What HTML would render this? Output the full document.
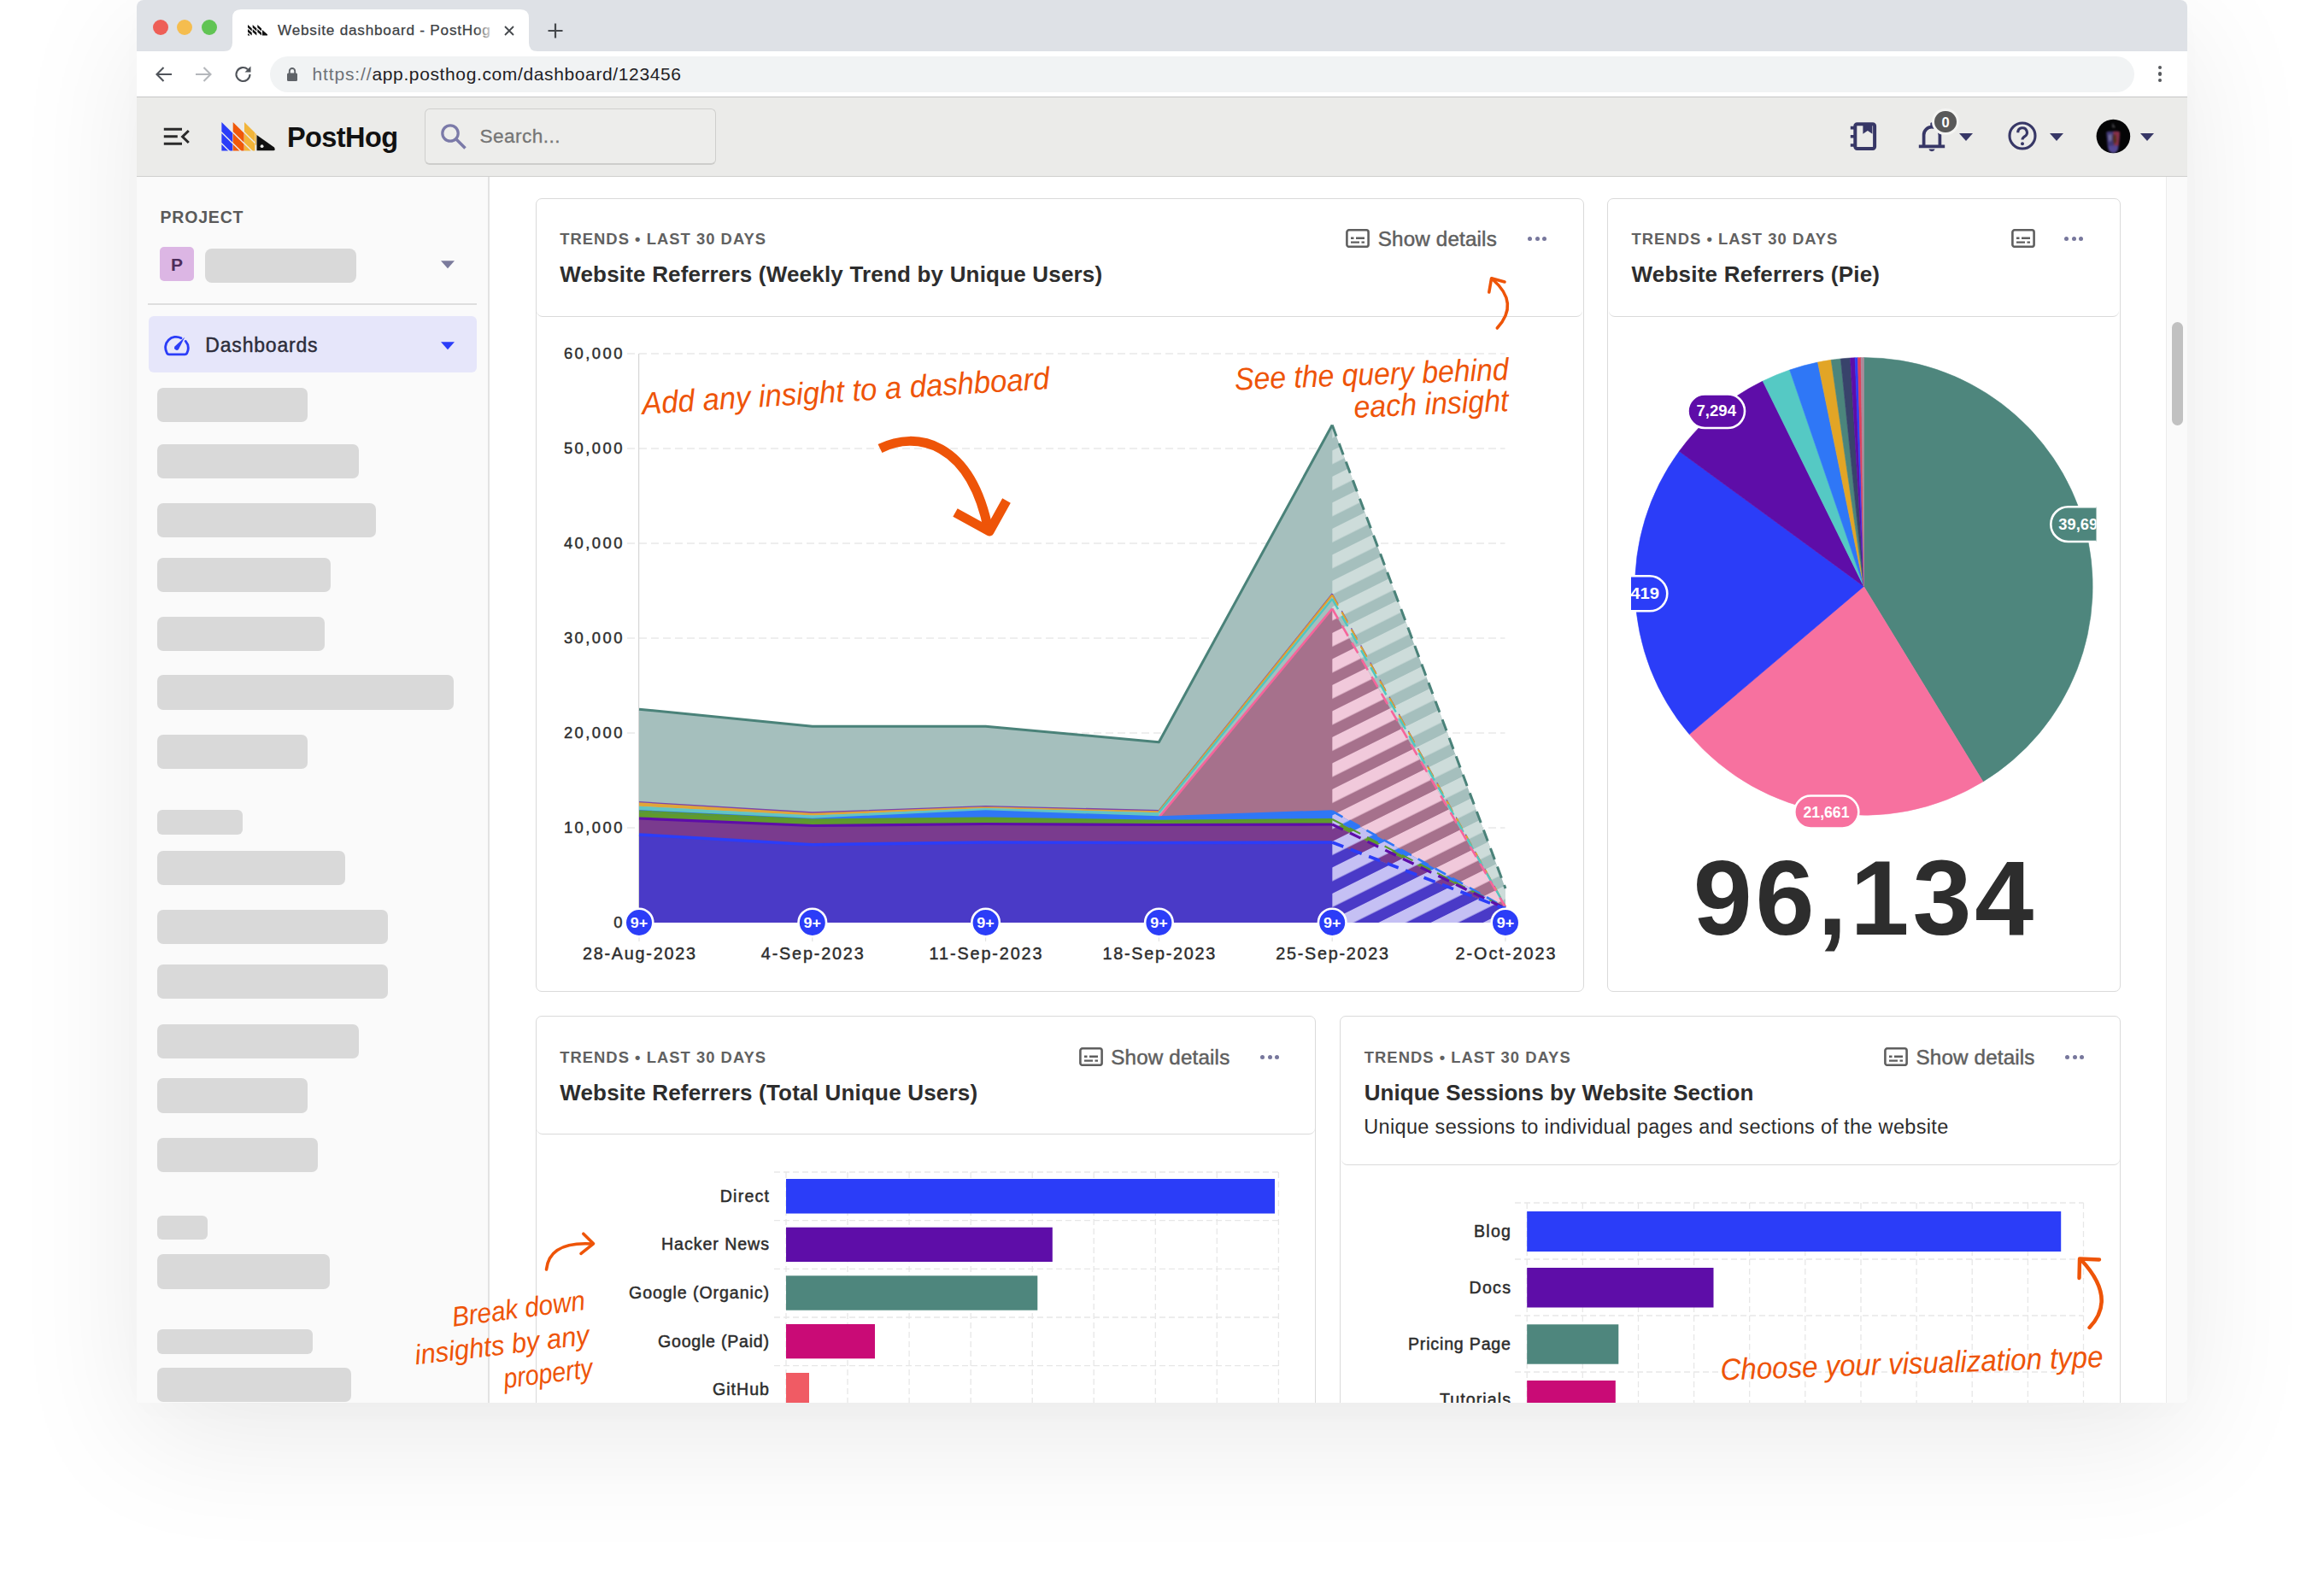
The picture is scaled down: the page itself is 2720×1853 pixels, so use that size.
<!DOCTYPE html>
<html lang="en"><head><meta charset="utf-8"><title>Website dashboard - PostHog</title>
<style>
html,body{margin:0;padding:0;background:#fff}
body{width:2720px;height:1853px;position:relative;overflow:hidden;font-family:"Liberation Sans",sans-serif}
.b{position:absolute;display:block}
.t{position:absolute;white-space:nowrap;line-height:1;font-family:"Liberation Sans",sans-serif}
#shadow{position:absolute;left:160px;top:0;width:2400px;height:1642px;border-radius:8px 8px 7px 4px;
 box-shadow:0 40px 150px rgba(0,0,0,.085),0 10px 40px rgba(0,0,0,.012)}
#win{position:absolute;left:0;top:0;width:2720px;height:1853px;clip-path:inset(0px 160px 211px 160px round 8px 8px 7px 4px)}
#gfx{position:absolute;left:0;top:0}
text{font-family:"Liberation Sans",sans-serif}
</style></head>
<body>
<div id="shadow"></div>
<div id="win">
<div class="b" style="left:160.00px;top:0.00px;width:2400.00px;height:60.00px;background:#dee1e6"></div>
<svg class="b" style="left:252px;top:0" width="400" height="60" viewBox="252 0 400 60"><path d="M262 60 Q272 60 272 50 L272 21 Q272 11 282 11 L609 11 Q619 11 619 21 L619 50 Q619 60 629 60 Z" fill="#fff"/></svg>
<div class="b" style="left:178.50px;top:22.50px;width:18.00px;height:18.00px;background:#ee5f57;border-radius:50%"></div>
<div class="b" style="left:207.30px;top:22.50px;width:18.00px;height:18.00px;background:#f5bd4f;border-radius:50%"></div>
<div class="b" style="left:236.00px;top:22.50px;width:18.00px;height:18.00px;background:#61c454;border-radius:50%"></div>
<svg class="b" style="left:289.6px;top:29.4px" width="23.6" height="12.6" viewBox="0 0 50 30" preserveAspectRatio="none"><g fill="#111"><path d="M0 0 L10 10 L10 18 L0 8Z"/><path d="M0 12 L10 22 L10 30 L0 20Z"/><path d="M0 24 L6 30 L0 30Z"/><path d="M12 0 L22 10 L22 18 L12 8Z"/><path d="M12 12 L22 22 L22 30 L12 20Z"/><path d="M24 0 L34 10 L34 18 L24 8Z"/><path d="M24 12 L34 22 L34 30 L24 20Z"/><path d="M36 14 L50 28 L50 30 L36 30Z"/></g></svg>
<div class="t" style="left:325.00px;top:26.94px;font-size:17.2px;font-weight:normal;font-style:normal;color:#3c4043;letter-spacing:0.764px;-webkit-text-stroke:0.25px #3c4043;">Website dashboard - PostHog</div>
<div class="b" style="left:556.00px;top:22.00px;width:24.00px;height:28.00px;background:linear-gradient(90deg,rgba(255,255,255,0),#fff)"></div>
<svg class="b" style="left:588px;top:28px" width="16" height="16" viewBox="0 0 16 16"><path d="M3 3 L13 13 M13 3 L3 13" stroke="#45484c" stroke-width="1.8" fill="none"/></svg>
<svg class="b" style="left:640px;top:26px" width="20" height="20" viewBox="0 0 20 20"><path d="M10 1.5 V18.5 M1.5 10 H18.5" stroke="#45484c" stroke-width="2.2" fill="none"/></svg>
<div class="b" style="left:160.00px;top:60.00px;width:2400.00px;height:53.00px;background:#fff"></div>
<div class="b" style="left:160.00px;top:112.90px;width:2400.00px;height:1.30px;background:#c6c6c6"></div>
<svg class="b" style="left:180px;top:75px" width="24" height="24" viewBox="0 0 24 24"><path d="M21 12 H4 M11.5 4 L3.5 12 L11.5 20" stroke="#50545a" stroke-width="2.1" fill="none"/></svg>
<svg class="b" style="left:226px;top:75px" width="24" height="24" viewBox="0 0 24 24"><path d="M3 12 H20 M12.5 4 L20.5 12 L12.5 20" stroke="#b4b7bb" stroke-width="2.1" fill="none"/></svg>
<svg class="b" style="left:273px;top:75px" width="24" height="24" viewBox="0 0 24 24"><path d="M19.5 12 A8 8 0 1 1 17 6.2" stroke="#50545a" stroke-width="2.1" fill="none"/><path d="M20.5 2.5 V9.5 H13.5 Z" fill="#50545a"/></svg>
<div class="b" style="left:316.00px;top:66.30px;width:2181.50px;height:41.50px;background:#f1f3f4;border-radius:21px"></div>
<svg class="b" style="left:335px;top:78px" width="14" height="18" viewBox="0 0 14 18"><rect x="1" y="7.5" width="12" height="9.5" rx="1.5" fill="#5f6368"/><path d="M3.8 8 V5.2 A3.2 3.2 0 0 1 10.2 5.2 V8" stroke="#5f6368" stroke-width="1.9" fill="none"/></svg>
<div class="t" style="left:365.50px;top:76.22px;font-size:21px;font-weight:normal;font-style:normal;color:#6e7277;letter-spacing:0.853px;">https://</div>
<div class="t" style="left:435.50px;top:76.22px;font-size:21px;font-weight:normal;font-style:normal;color:#1f2124;letter-spacing:0.625px;">app.posthog.com/dashboard/123456</div>
<div class="b" style="left:2526.00px;top:77.10px;width:4.40px;height:4.40px;background:#55585c;border-radius:50%"></div>
<div class="b" style="left:2526.00px;top:84.45px;width:4.40px;height:4.40px;background:#55585c;border-radius:50%"></div>
<div class="b" style="left:2526.00px;top:91.80px;width:4.40px;height:4.40px;background:#55585c;border-radius:50%"></div>
<div class="b" style="left:160.00px;top:114.00px;width:2400.00px;height:92.50px;background:#ebebe9"></div>
<div class="b" style="left:160.00px;top:205.60px;width:2400.00px;height:1.40px;background:#d0d0ce"></div>
<svg class="b" style="left:186px;top:144px" width="40" height="32" viewBox="186 144 40 32"><path d="M191.8 151.2 H213 M191.8 159.8 H207.8 M191.8 168.3 H213" stroke="#2b2b2b" stroke-width="3" fill="none"/><path d="M220.8 153 L213.6 160 L220.8 167" stroke="#2b2b2b" stroke-width="3" fill="none"/></svg>
<svg class="b" style="left:255px;top:138px" width="72" height="44" viewBox="255 138 72 44"><defs><clipPath id="lg"><rect x="255" y="138" width="72" height="38.6"/></clipPath></defs><g clip-path="url(#lg)"><path d="M259.4 142.9 L272.3 155.8 L272.3 166.8 L259.4 153.9 Z" fill="#2b3df8"/><path d="M259.4 155.9 L272.3 168.8 L272.3 179.8 L259.4 166.9 Z" fill="#2b3df8"/><path d="M259.4 168.9 L272.3 181.8 L272.3 192.8 L259.4 179.9 Z" fill="#2b3df8"/><path d="M272.7 142.9 L285.6 155.8 L285.6 166.8 L272.7 153.9 Z" fill="#f0590a"/><path d="M272.7 155.9 L285.6 168.8 L285.6 179.8 L272.7 166.9 Z" fill="#f0590a"/><path d="M272.7 168.9 L285.6 181.8 L285.6 192.8 L272.7 179.9 Z" fill="#f0590a"/><path d="M286 142.9 L298.3 155.2 L298.3 166.2 L286 153.9 Z" fill="#f2b53a"/><path d="M286 155.9 L298.3 168.2 L298.3 179.2 L286 166.9 Z" fill="#f2b53a"/><path d="M286 168.9 L298.3 181.2 L298.3 192.2 L286 179.9 Z" fill="#f2b53a"/><path d="M298.7 155.6 L298.7 169 L300 170.3 L300 157 Z" fill="#f2b53a"/><path d="M300.5 158 L321 172.6 Q323 176.6 319.5 176.6 L300.5 176.6 Z" fill="#111"/><circle cx="306.6" cy="171.2" r="1.9" fill="#ebebe9"/></g></svg>
<div class="t" style="left:336.00px;top:144.99px;font-size:32.5px;font-weight:bold;font-style:normal;color:#111;letter-spacing:-0.601px;">PostHog</div>
<div class="b" style="left:496.50px;top:127.00px;width:341.50px;height:65.50px;background:#ededeb;border:1.5px solid #cfcfcd;border-bottom:2.5px solid #cdcdcb;border-radius:6px;box-sizing:border-box"></div>
<svg class="b" style="left:514px;top:143px" width="34" height="34" viewBox="0 0 34 34"><circle cx="13" cy="13" r="9.2" stroke="#7b7aa8" stroke-width="3.2" fill="none"/><path d="M20 20 L30.5 30.5" stroke="#7b7aa8" stroke-width="3.6" fill="none"/></svg>
<div class="t" style="left:561.50px;top:148.87px;font-size:22.6px;font-weight:normal;font-style:normal;color:#757575;letter-spacing:0.444px;-webkit-text-stroke:0.3px #757575;">Search...</div>
<svg class="b" style="left:2160px;top:138px" width="40" height="42" viewBox="2160 138 40 42"><rect x="2171.3" y="145.2" width="22.8" height="28.8" rx="2.2" stroke="#373766" stroke-width="4" fill="none"/><path d="M2180.4 145 H2191.4 V156.8 L2185.9 153 L2180.4 156.8 Z" fill="#373766"/><path d="M2165.8 149.6 H2171 M2165.8 159.8 H2171 M2165.8 170 H2171" stroke="#373766" stroke-width="3.6"/></svg>
<svg class="b" style="left:2240px;top:138px" width="42" height="44" viewBox="2240 138 42 44"><path d="M2245.8 171.4 H2276.2 M2251.6 171.4 V158 A9.4 9.4 0 0 1 2270.4 158 V171.4" stroke="#373766" stroke-width="3.7" fill="none" stroke-linejoin="round"/><path d="M2257.4 174.6 A3.7 3.4 0 0 0 2264.6 174.6 Z" fill="#373766"/><rect x="2259.3" y="143.2" width="3.6" height="5.5" rx="1.5" fill="#373766"/></svg>
<div class="b" style="left:2261.20px;top:126.80px;width:31.60px;height:31.60px;background:#595959;border:3px solid #f4f4f2;border-radius:50%;box-sizing:border-box"></div>
<div class="t" style="left:2272.41px;top:134.73px;font-size:16.5px;font-weight:bold;font-style:normal;color:#fff;letter-spacing:0.000px;">0</div>
<svg class="b" style="left:2293.4px;top:156px" width="16" height="9" viewBox="0 0 16 9"><path d="M0 0 H16 L8 9 Z" fill="#373766"/></svg>
<svg class="b" style="left:2349px;top:141px" width="36" height="36" viewBox="0 0 36 36"><circle cx="18" cy="18" r="15" stroke="#373766" stroke-width="3.1" fill="none"/><path d="M12.8 14.2 A5.3 5.3 0 1 1 20.8 18.6 Q18 20.4 18 22.6" stroke="#373766" stroke-width="3.1" fill="none"/><circle cx="18" cy="27.2" r="2" fill="#373766"/></svg>
<svg class="b" style="left:2398.7px;top:156px" width="16" height="9" viewBox="0 0 16 9"><path d="M0 0 H16 L8 9 Z" fill="#373766"/></svg>
<svg class="b" style="left:2450px;top:136px" width="48" height="48" viewBox="2450 136 48 48"><defs><clipPath id="av"><circle cx="2473.4" cy="159.5" r="19.8"/></clipPath><filter id="avb"><feGaussianBlur stdDeviation="0.8"/></filter></defs><circle cx="2473.4" cy="159.5" r="19.8" fill="#050506"/><g clip-path="url(#av)" filter="url(#avb)" opacity=".82"><path d="M2465.3 156 Q2465 153.8 2468 153.8 L2479 153.8 Q2481.3 153.8 2481 156 L2479.6 172 Q2478.6 179 2473.5 179.5 Q2468 179 2466.8 172 Z" fill="#4f4590"/><path d="M2473.4 153.8 L2479 153.8 Q2481.3 153.8 2481 156 L2479.8 170 L2474.5 171 Z" fill="#a63a58"/><path d="M2473 157 L2476.5 158 L2477.5 166 L2474 169 L2472.5 163 Z" fill="#6b3a22"/><path d="M2467.5 158 L2471.5 157 L2471.5 164 L2468.5 166 Z" fill="#8d87c0"/><path d="M2467.5 171.5 Q2473 169.5 2479 171.5 L2478.4 176 Q2473.5 181 2468.4 176 Z" fill="#6759b5"/><path d="M2472.3 144.5 L2473.2 144.5 L2473.8 147 L2475.6 148.4 L2475.6 149.3 L2472.3 149.3 Z" fill="#6a6a72"/></g></svg>
<svg class="b" style="left:2505px;top:156px" width="16" height="9" viewBox="0 0 16 9"><path d="M0 0 H16 L8 9 Z" fill="#373766"/></svg>
<div class="b" style="left:160.00px;top:206.50px;width:412.00px;height:1435.50px;background:#fafafa"></div>
<div class="b" style="left:571.40px;top:206.50px;width:1.40px;height:1435.50px;background:#e2e2e2"></div>
<div class="t" style="left:187.50px;top:244.79px;font-size:19.5px;font-weight:bold;font-style:normal;color:#5a5a5a;letter-spacing:0.816px;">PROJECT</div>
<div class="b" style="left:187.00px;top:289.00px;width:40.00px;height:40.00px;background:#dcb6e4;border-radius:5px"></div>
<div class="t" style="left:200.00px;top:298.72px;font-size:21px;font-weight:bold;font-style:normal;color:#4d2d5c;letter-spacing:0.000px;">P</div>
<div class="b" style="left:240.00px;top:290.50px;width:177.00px;height:40.00px;background:#d9d9d9;border-radius:8px"></div>
<svg class="b" style="left:516px;top:305px" width="16" height="9.5" viewBox="0 0 16 9"><path d="M0 0 H16 L8 9 Z" fill="#7b7b9c"/></svg>
<div class="b" style="left:172.50px;top:355.00px;width:385.50px;height:2.00px;background:#dedede"></div>
<div class="b" style="left:173.50px;top:370.30px;width:384.50px;height:65.50px;background:#e6e6fa;border-radius:6px"></div>
<svg class="b" style="left:191.7px;top:390.6px" width="30.2" height="26.6" viewBox="0 0 33 29"><path d="M27.6 9.2 A13.6 13.6 0 0 1 29.6 23.6 Q28.8 26 26.4 26 H6.6 Q4.2 26 3.4 23.6 A13.6 13.6 0 0 1 21.8 5.2" stroke="#2b3df8" stroke-width="3.1" fill="none" stroke-linecap="round"/><path d="M26.5 4.2 L18.6 19.6 A3.2 3.2 0 0 1 13.4 16 Z" fill="#2b3df8"/></svg>
<div class="t" style="left:240.30px;top:392.83px;font-size:23px;font-weight:normal;font-style:normal;color:#2d2d3a;letter-spacing:0.809px;-webkit-text-stroke:0.45px #2d2d3a;">Dashboards</div>
<svg class="b" style="left:516px;top:400px" width="16" height="9.5" viewBox="0 0 16 9"><path d="M0 0 H16 L8 9 Z" fill="#2b3df8"/></svg>
<div class="b" style="left:184.30px;top:453.50px;width:175.70px;height:40.90px;background:#d9d9d9;border-radius:7px"></div>
<div class="b" style="left:184.30px;top:520.30px;width:235.30px;height:40.20px;background:#d9d9d9;border-radius:7px"></div>
<div class="b" style="left:184.30px;top:588.70px;width:255.70px;height:40.30px;background:#d9d9d9;border-radius:7px"></div>
<div class="b" style="left:184.30px;top:652.50px;width:203.10px;height:40.20px;background:#d9d9d9;border-radius:7px"></div>
<div class="b" style="left:184.30px;top:722.20px;width:195.50px;height:40.20px;background:#d9d9d9;border-radius:7px"></div>
<div class="b" style="left:184.30px;top:790.00px;width:347.10px;height:40.80px;background:#d9d9d9;border-radius:7px"></div>
<div class="b" style="left:184.30px;top:860.30px;width:175.70px;height:40.20px;background:#d9d9d9;border-radius:7px"></div>
<div class="b" style="left:184.30px;top:948.00px;width:99.50px;height:29.20px;background:#d9d9d9;border-radius:6px"></div>
<div class="b" style="left:184.30px;top:996.00px;width:219.50px;height:40.30px;background:#d9d9d9;border-radius:7px"></div>
<div class="b" style="left:184.30px;top:1064.50px;width:269.80px;height:40.20px;background:#d9d9d9;border-radius:7px"></div>
<div class="b" style="left:184.30px;top:1129.00px;width:269.80px;height:40.00px;background:#d9d9d9;border-radius:7px"></div>
<div class="b" style="left:184.30px;top:1198.60px;width:235.30px;height:40.20px;background:#d9d9d9;border-radius:7px"></div>
<div class="b" style="left:184.30px;top:1262.30px;width:175.70px;height:40.70px;background:#d9d9d9;border-radius:7px"></div>
<div class="b" style="left:184.30px;top:1332.00px;width:187.30px;height:40.20px;background:#d9d9d9;border-radius:7px"></div>
<div class="b" style="left:184.30px;top:1422.70px;width:59.10px;height:28.50px;background:#d9d9d9;border-radius:6px"></div>
<div class="b" style="left:184.30px;top:1468.40px;width:201.30px;height:40.20px;background:#d9d9d9;border-radius:7px"></div>
<div class="b" style="left:184.30px;top:1556.00px;width:181.40px;height:28.60px;background:#d9d9d9;border-radius:6px"></div>
<div class="b" style="left:184.30px;top:1600.60px;width:227.10px;height:40.20px;background:#d9d9d9;border-radius:7px"></div>
<div class="b" style="left:572.80px;top:206.50px;width:1962.20px;height:1435.50px;background:#fff"></div>
<div class="b" style="left:2535.00px;top:206.50px;width:25.00px;height:1435.50px;background:#fafafa;border-left:1.5px solid #ebebeb;box-sizing:border-box"></div>
<div class="b" style="left:2542.20px;top:377.30px;width:12.80px;height:120.70px;background:#c1c1c1;border-radius:7px"></div>
<div class="b" style="left:626.70px;top:231.50px;width:1227.00px;height:929.80px;background:#fff;border:1.9px solid #dadada;border-radius:7px;box-sizing:border-box"></div><div class="b" style="left:628.20px;top:239.50px;width:1224.00px;height:131.30px;border-bottom:1.6px solid #dadada;border-radius:0 0 7px 7px;box-sizing:border-box"></div>
<div class="t" style="left:655.20px;top:270.82px;font-size:18.4px;font-weight:bold;font-style:normal;color:#616161;letter-spacing:1.026px;">TRENDS • LAST 30 DAYS</div><div class="t" style="left:655.20px;top:307.99px;font-size:26px;font-weight:bold;font-style:normal;color:#2d2d2d;letter-spacing:0.188px;">Website Referrers (Weekly Trend by Unique Users)</div>
<svg class="b" style="left:1575px;top:267.9px" width="28" height="22.2" viewBox="0 0 28 23" preserveAspectRatio="none"><rect x="1.4" y="1.4" width="25.2" height="20.2" rx="2.4" stroke="#5f5f5f" stroke-width="2.6" fill="none"/><path d="M6 11.2 H9.5 M12 11.2 H22 M6 16.2 H16 M18.5 16.2 H22" stroke="#5f5f5f" stroke-width="2.5"/></svg>
<div class="t" style="left:1612.80px;top:268.31px;font-size:24.2px;font-weight:normal;font-style:normal;color:#5f5f5f;letter-spacing:0.162px;-webkit-text-stroke:0.5px #5f5f5f;">Show details</div>
<div class="b" style="left:1788.00px;top:277.20px;width:5.00px;height:5.00px;background:#77779c;border-radius:50%"></div><div class="b" style="left:1796.50px;top:277.20px;width:5.00px;height:5.00px;background:#77779c;border-radius:50%"></div><div class="b" style="left:1805.00px;top:277.20px;width:5.00px;height:5.00px;background:#77779c;border-radius:50%"></div>
<div class="b" style="left:1881.00px;top:231.50px;width:600.50px;height:929.80px;background:#fff;border:1.9px solid #dadada;border-radius:7px;box-sizing:border-box"></div><div class="b" style="left:1882.50px;top:239.50px;width:597.50px;height:131.30px;border-bottom:1.6px solid #dadada;border-radius:0 0 7px 7px;box-sizing:border-box"></div>
<div class="t" style="left:1909.50px;top:270.82px;font-size:18.4px;font-weight:bold;font-style:normal;color:#616161;letter-spacing:1.026px;">TRENDS • LAST 30 DAYS</div><div class="t" style="left:1909.50px;top:307.99px;font-size:26px;font-weight:bold;font-style:normal;color:#2d2d2d;letter-spacing:0.221px;">Website Referrers (Pie)</div>
<svg class="b" style="left:2353.7px;top:267.9px" width="28" height="22.2" viewBox="0 0 28 23" preserveAspectRatio="none"><rect x="1.4" y="1.4" width="25.2" height="20.2" rx="2.4" stroke="#5f5f5f" stroke-width="2.6" fill="none"/><path d="M6 11.2 H9.5 M12 11.2 H22 M6 16.2 H16 M18.5 16.2 H22" stroke="#5f5f5f" stroke-width="2.5"/></svg>
<div class="b" style="left:2416.00px;top:277.20px;width:5.00px;height:5.00px;background:#77779c;border-radius:50%"></div><div class="b" style="left:2424.50px;top:277.20px;width:5.00px;height:5.00px;background:#77779c;border-radius:50%"></div><div class="b" style="left:2433.00px;top:277.20px;width:5.00px;height:5.00px;background:#77779c;border-radius:50%"></div>
<div class="b" style="left:626.70px;top:1189.20px;width:913.80px;height:510.80px;background:#fff;border:1.9px solid #dadada;border-radius:7px;box-sizing:border-box"></div><div class="b" style="left:628.20px;top:1197.20px;width:910.80px;height:131.10px;border-bottom:1.6px solid #dadada;border-radius:0 0 7px 7px;box-sizing:border-box"></div>
<div class="t" style="left:655.20px;top:1228.82px;font-size:18.4px;font-weight:bold;font-style:normal;color:#616161;letter-spacing:1.026px;">TRENDS • LAST 30 DAYS</div><div class="t" style="left:655.20px;top:1265.99px;font-size:26px;font-weight:bold;font-style:normal;color:#2d2d2d;letter-spacing:0.199px;">Website Referrers (Total Unique Users)</div>
<svg class="b" style="left:1262.5px;top:1225.9px" width="28" height="22.2" viewBox="0 0 28 23" preserveAspectRatio="none"><rect x="1.4" y="1.4" width="25.2" height="20.2" rx="2.4" stroke="#5f5f5f" stroke-width="2.6" fill="none"/><path d="M6 11.2 H9.5 M12 11.2 H22 M6 16.2 H16 M18.5 16.2 H22" stroke="#5f5f5f" stroke-width="2.5"/></svg>
<div class="t" style="left:1300.30px;top:1226.11px;font-size:24.2px;font-weight:normal;font-style:normal;color:#5f5f5f;letter-spacing:0.162px;-webkit-text-stroke:0.5px #5f5f5f;">Show details</div>
<div class="b" style="left:1475.00px;top:1235.00px;width:5.00px;height:5.00px;background:#77779c;border-radius:50%"></div><div class="b" style="left:1483.50px;top:1235.00px;width:5.00px;height:5.00px;background:#77779c;border-radius:50%"></div><div class="b" style="left:1492.00px;top:1235.00px;width:5.00px;height:5.00px;background:#77779c;border-radius:50%"></div>
<div class="b" style="left:1568.30px;top:1189.20px;width:914.20px;height:510.80px;background:#fff;border:1.9px solid #dadada;border-radius:7px;box-sizing:border-box"></div><div class="b" style="left:1569.80px;top:1197.20px;width:911.20px;height:167.30px;border-bottom:1.6px solid #dadada;border-radius:0 0 7px 7px;box-sizing:border-box"></div>
<div class="t" style="left:1596.80px;top:1228.82px;font-size:18.4px;font-weight:bold;font-style:normal;color:#616161;letter-spacing:1.026px;">TRENDS • LAST 30 DAYS</div><div class="t" style="left:1596.80px;top:1265.99px;font-size:26px;font-weight:bold;font-style:normal;color:#2d2d2d;letter-spacing:0.026px;">Unique Sessions by Website Section</div>
<div class="t" style="left:1596.30px;top:1307.71px;font-size:23.5px;font-weight:normal;font-style:normal;color:#2d2d2d;letter-spacing:0.328px;">Unique sessions to individual pages and sections of the website</div>
<svg class="b" style="left:2205.3px;top:1225.9px" width="28" height="22.2" viewBox="0 0 28 23" preserveAspectRatio="none"><rect x="1.4" y="1.4" width="25.2" height="20.2" rx="2.4" stroke="#5f5f5f" stroke-width="2.6" fill="none"/><path d="M6 11.2 H9.5 M12 11.2 H22 M6 16.2 H16 M18.5 16.2 H22" stroke="#5f5f5f" stroke-width="2.5"/></svg>
<div class="t" style="left:2242.50px;top:1226.11px;font-size:24.2px;font-weight:normal;font-style:normal;color:#5f5f5f;letter-spacing:0.162px;-webkit-text-stroke:0.5px #5f5f5f;">Show details</div>
<div class="b" style="left:2417.00px;top:1235.00px;width:5.00px;height:5.00px;background:#77779c;border-radius:50%"></div><div class="b" style="left:2425.50px;top:1235.00px;width:5.00px;height:5.00px;background:#77779c;border-radius:50%"></div><div class="b" style="left:2434.00px;top:1235.00px;width:5.00px;height:5.00px;background:#77779c;border-radius:50%"></div>
<div class="t" style="left:659.90px;top:405.02px;font-size:18.4px;font-weight:normal;font-style:normal;color:#2d2d2d;letter-spacing:2.464px;-webkit-text-stroke:0.45px #2d2d2d;">60,000</div>
<div class="t" style="left:659.90px;top:516.02px;font-size:18.4px;font-weight:normal;font-style:normal;color:#2d2d2d;letter-spacing:2.464px;-webkit-text-stroke:0.45px #2d2d2d;">50,000</div>
<div class="t" style="left:659.90px;top:627.02px;font-size:18.4px;font-weight:normal;font-style:normal;color:#2d2d2d;letter-spacing:2.464px;-webkit-text-stroke:0.45px #2d2d2d;">40,000</div>
<div class="t" style="left:659.90px;top:738.02px;font-size:18.4px;font-weight:normal;font-style:normal;color:#2d2d2d;letter-spacing:2.464px;-webkit-text-stroke:0.45px #2d2d2d;">30,000</div>
<div class="t" style="left:659.90px;top:849.02px;font-size:18.4px;font-weight:normal;font-style:normal;color:#2d2d2d;letter-spacing:2.464px;-webkit-text-stroke:0.45px #2d2d2d;">20,000</div>
<div class="t" style="left:659.90px;top:960.02px;font-size:18.4px;font-weight:normal;font-style:normal;color:#2d2d2d;letter-spacing:2.464px;-webkit-text-stroke:0.45px #2d2d2d;">10,000</div>
<div class="t" style="left:718.27px;top:1071.02px;font-size:18.4px;font-weight:normal;font-style:normal;color:#2d2d2d;letter-spacing:0.000px;-webkit-text-stroke:0.45px #2d2d2d;">0</div>
<div class="t" style="left:682.00px;top:1106.94px;font-size:19.8px;font-weight:normal;font-style:normal;color:#2d2d2d;letter-spacing:1.751px;-webkit-text-stroke:0.45px #2d2d2d;">28-Aug-2023</div>
<div class="t" style="left:890.80px;top:1106.94px;font-size:19.8px;font-weight:normal;font-style:normal;color:#2d2d2d;letter-spacing:1.835px;-webkit-text-stroke:0.45px #2d2d2d;">4-Sep-2023</div>
<div class="t" style="left:1087.60px;top:1106.94px;font-size:19.8px;font-weight:normal;font-style:normal;color:#2d2d2d;letter-spacing:1.898px;-webkit-text-stroke:0.45px #2d2d2d;">11-Sep-2023</div>
<div class="t" style="left:1290.40px;top:1106.94px;font-size:19.8px;font-weight:normal;font-style:normal;color:#2d2d2d;letter-spacing:1.751px;-webkit-text-stroke:0.45px #2d2d2d;">18-Sep-2023</div>
<div class="t" style="left:1493.20px;top:1106.94px;font-size:19.8px;font-weight:normal;font-style:normal;color:#2d2d2d;letter-spacing:1.751px;-webkit-text-stroke:0.45px #2d2d2d;">25-Sep-2023</div>
<div class="t" style="left:1703.50px;top:1106.94px;font-size:19.8px;font-weight:normal;font-style:normal;color:#2d2d2d;letter-spacing:1.994px;-webkit-text-stroke:0.45px #2d2d2d;">2-Oct-2023</div>
<div class="t" style="left:1981.70px;top:989.03px;font-size:124px;font-weight:bold;font-style:normal;color:#2d2d2d;letter-spacing:3.845px;">96,134</div>
<div class="t" style="left:842.70px;top:1390.66px;font-size:19.6px;font-weight:normal;font-style:normal;color:#2d2d2d;letter-spacing:1.223px;-webkit-text-stroke:0.5px #2d2d2d;">Direct</div>
<div class="t" style="left:774.00px;top:1447.26px;font-size:19.6px;font-weight:normal;font-style:normal;color:#2d2d2d;letter-spacing:0.946px;-webkit-text-stroke:0.5px #2d2d2d;">Hacker News</div>
<div class="t" style="left:736.00px;top:1503.91px;font-size:19.6px;font-weight:normal;font-style:normal;color:#2d2d2d;letter-spacing:0.911px;-webkit-text-stroke:0.5px #2d2d2d;">Google (Organic)</div>
<div class="t" style="left:770.00px;top:1560.56px;font-size:19.6px;font-weight:normal;font-style:normal;color:#2d2d2d;letter-spacing:0.755px;-webkit-text-stroke:0.5px #2d2d2d;">Google (Paid)</div>
<div class="t" style="left:834.00px;top:1617.16px;font-size:19.6px;font-weight:normal;font-style:normal;color:#2d2d2d;letter-spacing:1.000px;-webkit-text-stroke:0.5px #2d2d2d;">GitHub</div>
<div class="t" style="left:1725.00px;top:1431.91px;font-size:19.6px;font-weight:normal;font-style:normal;color:#2d2d2d;letter-spacing:1.256px;-webkit-text-stroke:0.5px #2d2d2d;">Blog</div>
<div class="t" style="left:1719.50px;top:1497.66px;font-size:19.6px;font-weight:normal;font-style:normal;color:#2d2d2d;letter-spacing:1.281px;-webkit-text-stroke:0.5px #2d2d2d;">Docs</div>
<div class="t" style="left:1648.00px;top:1563.91px;font-size:19.6px;font-weight:normal;font-style:normal;color:#2d2d2d;letter-spacing:0.806px;-webkit-text-stroke:0.5px #2d2d2d;">Pricing Page</div>
<div class="t" style="left:1685.00px;top:1629.41px;font-size:19.6px;font-weight:normal;font-style:normal;color:#2d2d2d;letter-spacing:1.071px;-webkit-text-stroke:0.5px #2d2d2d;">Tutorials</div>
<svg id="gfx" width="2720" height="1853" viewBox="0 0 2720 1853">
<path d="M734 414 H1761.5" stroke="#e9e9e9" stroke-width="1.3" stroke-dasharray="9 5" fill="none"/>
<path d="M734 525 H1761.5" stroke="#e9e9e9" stroke-width="1.3" stroke-dasharray="9 5" fill="none"/>
<path d="M734 636 H1761.5" stroke="#e9e9e9" stroke-width="1.3" stroke-dasharray="9 5" fill="none"/>
<path d="M734 747 H1761.5" stroke="#e9e9e9" stroke-width="1.3" stroke-dasharray="9 5" fill="none"/>
<path d="M734 858 H1761.5" stroke="#e9e9e9" stroke-width="1.3" stroke-dasharray="9 5" fill="none"/>
<path d="M734 969 H1761.5" stroke="#e9e9e9" stroke-width="1.3" stroke-dasharray="9 5" fill="none"/>
<path d="M747.6 414 V1080" stroke="#d8d8d8" stroke-width="1.3"/>
<path d="M748 1096 V1102" stroke="#e3e3e3" stroke-width="1.2"/>
<path d="M950.8 1096 V1102" stroke="#e3e3e3" stroke-width="1.2"/>
<path d="M1153.6 1096 V1102" stroke="#e3e3e3" stroke-width="1.2"/>
<path d="M1356.4 1096 V1102" stroke="#e3e3e3" stroke-width="1.2"/>
<path d="M1559.2 1096 V1102" stroke="#e3e3e3" stroke-width="1.2"/>
<path d="M1762 1096 V1102" stroke="#e3e3e3" stroke-width="1.2"/>
<defs><pattern id="h1" width="40" height="27.3" patternUnits="userSpaceOnUse" patternTransform="translate(1559.2 1076.5) rotate(-26.5)"><rect x="0" y="0" width="40" height="14.3" fill="#cddcda"/></pattern><pattern id="h2" width="40" height="27.3" patternUnits="userSpaceOnUse" patternTransform="translate(1559.2 1076.5) rotate(-26.5)"><rect x="0" y="0" width="40" height="14.3" fill="#f1c9db"/></pattern><pattern id="h3" width="40" height="27.3" patternUnits="userSpaceOnUse" patternTransform="translate(1559.2 1076.5) rotate(-26.5)"><rect x="0" y="0" width="40" height="14.3" fill="#c5c0f4"/></pattern><clipPath id="c1"><rect x="1559.2" y="400" width="204.79999999999995" height="680.0"/></clipPath></defs>
<polygon points="748.0,830.2 950.8,850.2 1153.6,850.2 1356.4,868.7 1559.2,497.5 1762.0,1040.0 1762,1080.0 748,1080.0" fill="#a5bfbd" opacity="1"/>
<g clip-path="url(#c1)"><polygon points="1559.2,497.5 1762.0,1040.0 1762,1080.0 1559.2,1080.0" fill="url(#h1)"/></g>
<polygon points="748.0,948.5 950.8,958.5 1153.6,949.5 1356.4,956.8 1559.2,712.5 1762.0,1062.0 1762,1080.0 748,1080.0" fill="#a6718c" opacity="1"/>
<g clip-path="url(#c1)"><polygon points="1559.2,712.5 1762.0,1062.0 1762,1080.0 1559.2,1080.0" fill="url(#h2)"/></g>
<polygon points="748.0,938.7 950.8,951.0 1153.6,943.7 1356.4,948.6 1356.4,951.2 1153.6,946.0 950.8,954.5 748.0,943.7" fill="#dfa63a"/>
<polygon points="748.0,943.7 950.8,954.5 1153.6,946.0 1356.4,951.2 1356.4,956.8 1153.6,949.5 950.8,958.5 748.0,948.5" fill="#62c4c4"/>
<polygon points="748.0,949.3 950.8,959.0 1153.6,949.6 1356.4,956.6 1559.2,949.5 1762.0,1062.5 1762.0,1063.0 1559.2,959.0 1356.4,960.7 1153.6,957.5 950.8,959.5 748.0,949.5" fill="#2f77f6"/>
<polygon points="748.0,949.5 950.8,959.5 1153.6,957.5 1356.4,960.7 1559.2,959.0 1762.0,1063.0 1762.0,1063.5 1559.2,965.0 1356.4,965.5 1153.6,964.5 950.8,966.5 748.0,958.0" fill="#5f9a2e"/>
<polygon points="748.0,958.0 950.8,966.5 1153.6,964.5 1356.4,965.5 1559.2,965.0 1762.0,1063.5 1762.0,1064.0 1559.2,986.0 1356.4,986.5 1153.6,986.0 950.8,988.7 748.0,977.0" fill="#7a3b8e"/>
<polygon points="748.0,977.0 950.8,988.7 1153.6,986.0 1356.4,986.5 1559.2,986.0 1762.0,1064.0 1762,1080.0 748,1080.0" fill="#4a3ac7" opacity="1"/>
<g clip-path="url(#c1)"><polygon points="1559.2,949.5 1762.0,1062.5 1762,1080.0 1559.2,1080.0" fill="url(#h3)"/></g>
<polyline points="748.0,830.2 950.8,850.2 1153.6,850.2 1356.4,868.7 1559.2,497.5" stroke="#4a8279" stroke-width="3" fill="none" stroke-linejoin="round"/><polyline points="1559.2,497.5 1762.0,1040.0" stroke="#4a8279" stroke-width="3" fill="none" stroke-dasharray="14 9"/>
<polyline points="748.0,938.7 950.8,951.0 1153.6,943.7 1356.4,948.6 1559.2,695.0" stroke="#7b45ad" stroke-width="1.3" fill="none" stroke-linejoin="round"/><polyline points="1559.2,695.0 1762.0,1060.8" stroke="#7b45ad" stroke-width="1.3" fill="none" stroke-dasharray="14 9"/>
<polyline points="1356.4,949.6 1559.2,696.5" stroke="#dfa32b" stroke-width="2" fill="none" stroke-linejoin="round"/><polyline points="1559.2,696.5 1762.0,1061.0" stroke="#dfa32b" stroke-width="2" fill="none" stroke-dasharray="14 9"/>
<polyline points="1356.4,951.2 1559.2,701.0" stroke="#4fc6c1" stroke-width="2.4" fill="none" stroke-linejoin="round"/><polyline points="1559.2,701.0 1762.0,1061.5" stroke="#4fc6c1" stroke-width="2.4" fill="none" stroke-dasharray="14 9"/>
<polyline points="1356.4,956.8 1559.2,712.5" stroke="#f6659b" stroke-width="2.6" fill="none" stroke-linejoin="round"/><polyline points="1559.2,712.5 1762.0,1062.0" stroke="#f6659b" stroke-width="2.6" fill="none" stroke-dasharray="14 9"/>
<polyline points="748.0,949.3 950.8,959.0 1153.6,949.6 1356.4,956.6 1559.2,949.5" stroke="#2f77f6" stroke-width="2.6" fill="none" stroke-linejoin="round"/><polyline points="1559.2,949.5 1762.0,1062.5" stroke="#2f77f6" stroke-width="2.6" fill="none" stroke-dasharray="14 9"/>
<polyline points="748.0,949.5 950.8,959.5 1153.6,957.5 1356.4,960.7 1559.2,959.0" stroke="#5a9a2e" stroke-width="2" fill="none" stroke-linejoin="round"/><polyline points="1559.2,959.0 1762.0,1063.0" stroke="#5a9a2e" stroke-width="2" fill="none" stroke-dasharray="14 9"/>
<polyline points="748.0,958.0 950.8,966.5 1153.6,964.5 1356.4,965.5 1559.2,965.0" stroke="#5e0da8" stroke-width="3.2" fill="none" stroke-linejoin="round"/><polyline points="1559.2,965.0 1762.0,1063.5" stroke="#5e0da8" stroke-width="3.2" fill="none" stroke-dasharray="14 9"/>
<polyline points="748.0,977.0 950.8,988.7 1153.6,986.0 1356.4,986.5 1559.2,986.0" stroke="#2b3df8" stroke-width="3.6" fill="none" stroke-linejoin="round"/><polyline points="1559.2,986.0 1762.0,1064.0" stroke="#2b3df8" stroke-width="3.6" fill="none" stroke-dasharray="14 9"/>
<circle cx="748" cy="1080.0" r="16.3" fill="#2b3df8" stroke="#fff" stroke-width="2.6"/>
<text x="748" y="1085.9" font-size="16.5" font-weight="bold" fill="#fff" text-anchor="middle" textLength="20.5" lengthAdjust="spacingAndGlyphs">9+</text>
<circle cx="950.8" cy="1080.0" r="16.3" fill="#2b3df8" stroke="#fff" stroke-width="2.6"/>
<text x="950.8" y="1085.9" font-size="16.5" font-weight="bold" fill="#fff" text-anchor="middle" textLength="20.5" lengthAdjust="spacingAndGlyphs">9+</text>
<circle cx="1153.6" cy="1080.0" r="16.3" fill="#2b3df8" stroke="#fff" stroke-width="2.6"/>
<text x="1153.6" y="1085.9" font-size="16.5" font-weight="bold" fill="#fff" text-anchor="middle" textLength="20.5" lengthAdjust="spacingAndGlyphs">9+</text>
<circle cx="1356.4" cy="1080.0" r="16.3" fill="#2b3df8" stroke="#fff" stroke-width="2.6"/>
<text x="1356.4" y="1085.9" font-size="16.5" font-weight="bold" fill="#fff" text-anchor="middle" textLength="20.5" lengthAdjust="spacingAndGlyphs">9+</text>
<circle cx="1559.2" cy="1080.0" r="16.3" fill="#2b3df8" stroke="#fff" stroke-width="2.6"/>
<text x="1559.2" y="1085.9" font-size="16.5" font-weight="bold" fill="#fff" text-anchor="middle" textLength="20.5" lengthAdjust="spacingAndGlyphs">9+</text>
<circle cx="1762" cy="1080.0" r="16.3" fill="#2b3df8" stroke="#fff" stroke-width="2.6"/>
<text x="1762" y="1085.9" font-size="16.5" font-weight="bold" fill="#fff" text-anchor="middle" textLength="20.5" lengthAdjust="spacingAndGlyphs">9+</text>
<path d="M2181.4 686.4 L2181.40 418.60 A267.8 267.8 0 0 1 2320.93 914.98 Z" fill="#4e867d" stroke="#4e867d" stroke-width=".6"/>
<path d="M2181.4 686.4 L2320.93 914.98 A267.8 267.8 0 0 1 1977.16 859.61 Z" fill="#f7719f" stroke="#f7719f" stroke-width=".6"/>
<path d="M2181.4 686.4 L1977.16 859.61 A267.8 267.8 0 0 1 1965.30 528.24 Z" fill="#2b3df8" stroke="#2b3df8" stroke-width=".6"/>
<path d="M2181.4 686.4 L1965.30 528.24 A267.8 267.8 0 0 1 2063.16 446.11 Z" fill="#5e0da8" stroke="#5e0da8" stroke-width=".6"/>
<path d="M2181.4 686.4 L2063.16 446.11 A267.8 267.8 0 0 1 2094.65 433.04 Z" fill="#55c9c4" stroke="#55c9c4" stroke-width=".6"/>
<path d="M2181.4 686.4 L2094.65 433.04 A267.8 267.8 0 0 1 2127.55 424.07 Z" fill="#2f77f6" stroke="#2f77f6" stroke-width=".6"/>
<path d="M2181.4 686.4 L2127.55 424.07 A267.8 267.8 0 0 1 2143.20 421.34 Z" fill="#e2a526" stroke="#e2a526" stroke-width=".6"/>
<path d="M2181.4 686.4 L2143.20 421.34 A267.8 267.8 0 0 1 2154.34 419.97 Z" fill="#4b857c" stroke="#4b857c" stroke-width=".6"/>
<path d="M2181.4 686.4 L2154.34 419.97 A267.8 267.8 0 0 1 2165.52 419.07 Z" fill="#38436b" stroke="#38436b" stroke-width=".6"/>
<path d="M2181.4 686.4 L2165.52 419.07 A267.8 267.8 0 0 1 2171.12 418.80 Z" fill="#5e0da8" stroke="#5e0da8" stroke-width=".6"/>
<path d="M2181.4 686.4 L2171.12 418.80 A267.8 267.8 0 0 1 2174.39 418.69 Z" fill="#2b3df8" stroke="#2b3df8" stroke-width=".6"/>
<path d="M2181.4 686.4 L2174.39 418.69 A267.8 267.8 0 0 1 2178.13 418.62 Z" fill="#e0405a" stroke="#e0405a" stroke-width=".6"/>
<path d="M2181.4 686.4 L2178.13 418.62 A267.8 267.8 0 0 1 2181.40 418.60 Z" fill="#a98a9a" stroke="#a98a9a" stroke-width=".6"/>
<defs><clipPath id="pc"><rect x="1909" y="400" width="544.5" height="600"/></clipPath></defs>
<g clip-path="url(#pc)">
<rect x="1975.5" y="461.5" width="66.5" height="39.5" rx="19.75" fill="#5e0da8" stroke="#fff" stroke-width="2.6"/><text x="1985.5" y="487.45" font-size="17.5" font-weight="bold" fill="#fff" textLength="46.5" lengthAdjust="spacingAndGlyphs">7,294</text>
<rect x="2400.3" y="593.3" width="89.69999999999982" height="40.700000000000045" rx="20.350000000000023" fill="#4e867d" stroke="#fff" stroke-width="2.6"/><text x="2409.3" y="619.85" font-size="17.5" font-weight="bold" fill="#fff" textLength="56" lengthAdjust="spacingAndGlyphs">39,690</text>
<rect x="1870" y="674.3" width="81.29999999999995" height="41.0" rx="20.5" fill="#2b3df8" stroke="#fff" stroke-width="2.6"/><text x="1880" y="701.0" font-size="17.5" font-weight="bold" fill="#fff" textLength="62" lengthAdjust="spacingAndGlyphs">20,419</text>
<rect x="2100.3" y="931.5" width="75.0" height="38.0" rx="19.0" fill="#f7719f" stroke="#fff" stroke-width="2.6"/><text x="2110.5" y="956.7" font-size="17.5" font-weight="bold" fill="#fff" textLength="54" lengthAdjust="spacingAndGlyphs">21,661</text>
</g>
<path d="M920.0 1372 V1642" stroke="#e7e7e7" stroke-width="1.3" stroke-dasharray="7 4"/>
<path d="M992.0 1372 V1642" stroke="#e7e7e7" stroke-width="1.3" stroke-dasharray="7 4"/>
<path d="M1064.1 1372 V1642" stroke="#e7e7e7" stroke-width="1.3" stroke-dasharray="7 4"/>
<path d="M1136.2 1372 V1642" stroke="#e7e7e7" stroke-width="1.3" stroke-dasharray="7 4"/>
<path d="M1208.2 1372 V1642" stroke="#e7e7e7" stroke-width="1.3" stroke-dasharray="7 4"/>
<path d="M1280.2 1372 V1642" stroke="#e7e7e7" stroke-width="1.3" stroke-dasharray="7 4"/>
<path d="M1352.3 1372 V1642" stroke="#e7e7e7" stroke-width="1.3" stroke-dasharray="7 4"/>
<path d="M1424.3 1372 V1642" stroke="#e7e7e7" stroke-width="1.3" stroke-dasharray="7 4"/>
<path d="M1496.4 1372 V1642" stroke="#e7e7e7" stroke-width="1.3" stroke-dasharray="7 4"/>
<path d="M906 1372 H1497" stroke="#e7e7e7" stroke-width="1.3" stroke-dasharray="7 4"/>
<path d="M906 1428.6 H1497" stroke="#e7e7e7" stroke-width="1.3" stroke-dasharray="7 4"/>
<path d="M906 1485.3 H1497" stroke="#e7e7e7" stroke-width="1.3" stroke-dasharray="7 4"/>
<path d="M906 1542 H1497" stroke="#e7e7e7" stroke-width="1.3" stroke-dasharray="7 4"/>
<path d="M906 1598.6 H1497" stroke="#e7e7e7" stroke-width="1.3" stroke-dasharray="7 4"/>
<rect x="920" y="1380" width="572" height="40.5" fill="#2b3df8"/>
<rect x="920" y="1436.7" width="311.79999999999995" height="40.299999999999955" fill="#5e0da8"/>
<rect x="920" y="1493.3" width="294.29999999999995" height="40.40000000000009" fill="#4e867d"/>
<rect x="920" y="1550" width="104" height="40.299999999999955" fill="#c90b76"/>
<rect x="920" y="1607" width="27" height="39.5" fill="#f05b64"/>
<path d="M1787.2 1408 V1642" stroke="#e7e7e7" stroke-width="1.3" stroke-dasharray="7 4"/>
<path d="M1852.3 1408 V1642" stroke="#e7e7e7" stroke-width="1.3" stroke-dasharray="7 4"/>
<path d="M1917.5 1408 V1642" stroke="#e7e7e7" stroke-width="1.3" stroke-dasharray="7 4"/>
<path d="M1982.6 1408 V1642" stroke="#e7e7e7" stroke-width="1.3" stroke-dasharray="7 4"/>
<path d="M2047.7 1408 V1642" stroke="#e7e7e7" stroke-width="1.3" stroke-dasharray="7 4"/>
<path d="M2112.8 1408 V1642" stroke="#e7e7e7" stroke-width="1.3" stroke-dasharray="7 4"/>
<path d="M2178.0 1408 V1642" stroke="#e7e7e7" stroke-width="1.3" stroke-dasharray="7 4"/>
<path d="M2243.1 1408 V1642" stroke="#e7e7e7" stroke-width="1.3" stroke-dasharray="7 4"/>
<path d="M2308.2 1408 V1642" stroke="#e7e7e7" stroke-width="1.3" stroke-dasharray="7 4"/>
<path d="M2373.4 1408 V1642" stroke="#e7e7e7" stroke-width="1.3" stroke-dasharray="7 4"/>
<path d="M2438.5 1408 V1642" stroke="#e7e7e7" stroke-width="1.3" stroke-dasharray="7 4"/>
<path d="M1773 1408 H2438.5" stroke="#e7e7e7" stroke-width="1.3" stroke-dasharray="7 4"/>
<path d="M1773 1474 H2438.5" stroke="#e7e7e7" stroke-width="1.3" stroke-dasharray="7 4"/>
<path d="M1773 1540 H2438.5" stroke="#e7e7e7" stroke-width="1.3" stroke-dasharray="7 4"/>
<path d="M1773 1606 H2438.5" stroke="#e7e7e7" stroke-width="1.3" stroke-dasharray="7 4"/>
<rect x="1787.2" y="1418" width="624.9999999999998" height="47" fill="#2b3df8"/>
<rect x="1787.2" y="1484" width="218.29999999999995" height="46.5" fill="#5e0da8"/>
<rect x="1787.2" y="1550.3" width="107.09999999999991" height="46.40000000000009" fill="#4e867d"/>
<rect x="1787.2" y="1616" width="103.59999999999991" height="46" fill="#c90b76"/>
<text transform="translate(752.0 485.0) rotate(-3.60)" font-family="Liberation Sans, sans-serif" font-style="italic" font-size="36.5" fill="#ee5408" textLength="477.9" lengthAdjust="spacingAndGlyphs">Add any insight to a dashboard</text>
<text transform="translate(1445.5 456.4) rotate(-2.13)" font-family="Liberation Sans, sans-serif" font-style="italic" font-size="36.5" fill="#ee5408" textLength="320.7" lengthAdjust="spacingAndGlyphs">See the query behind</text>
<text transform="translate(1585.0 489.0) rotate(-2.53)" font-family="Liberation Sans, sans-serif" font-style="italic" font-size="36.5" fill="#ee5408" textLength="181.2" lengthAdjust="spacingAndGlyphs">each insight</text>
<text transform="translate(530.4 1552.7) rotate(-7.22)" font-family="Liberation Sans, sans-serif" font-style="italic" font-size="32.5" fill="#ee5408" textLength="156.6" lengthAdjust="spacingAndGlyphs">Break down</text>
<text transform="translate(486.8 1597.3) rotate(-6.66)" font-family="Liberation Sans, sans-serif" font-style="italic" font-size="32.5" fill="#ee5408" textLength="205.3" lengthAdjust="spacingAndGlyphs">insights by any</text>
<text transform="translate(590.7 1625.0) rotate(-7.13)" font-family="Liberation Sans, sans-serif" font-style="italic" font-size="32.5" fill="#ee5408" textLength="104.8" lengthAdjust="spacingAndGlyphs">property</text>
<text transform="translate(2014.0 1615.5) rotate(-1.96)" font-family="Liberation Sans, sans-serif" font-style="italic" font-size="35.5" fill="#ee5408" textLength="448.1" lengthAdjust="spacingAndGlyphs">Choose your visualization type</text>
<path d="M1030 525 C1072 504 1136 516 1157 621" stroke="#ee5408" stroke-width="11" fill="none"/>
<path d="M1118 600 L1158 622 L1178 586" stroke="#ee5408" stroke-width="11" fill="none" stroke-linejoin="round"/>
<path d="M1752.3 384 Q1779 355 1747 327" stroke="#ee5408" stroke-width="3.6" fill="none" stroke-linecap="round" stroke-linejoin="round"/>
<path d="M1742.8 342 L1745.6 325.8 L1761 330" stroke="#ee5408" stroke-width="3.6" fill="none" stroke-linecap="round" stroke-linejoin="round"/>
<path d="M639.5 1486 Q643 1453 693 1456" stroke="#ee5408" stroke-width="3.6" fill="none" stroke-linecap="round" stroke-linejoin="round"/>
<path d="M682.8 1444.2 L694.5 1455.8 L680 1467.4" stroke="#ee5408" stroke-width="3.6" fill="none" stroke-linecap="round" stroke-linejoin="round"/>
<path d="M2445.5 1554 Q2478 1520 2436 1475" stroke="#ee5408" stroke-width="4.4" fill="none" stroke-linecap="round" stroke-linejoin="round"/>
<path d="M2433.5 1496 L2434 1473.5 L2457 1474.5" stroke="#ee5408" stroke-width="4.4" fill="none" stroke-linecap="round" stroke-linejoin="round"/>
</svg>
</div>
</body></html>
